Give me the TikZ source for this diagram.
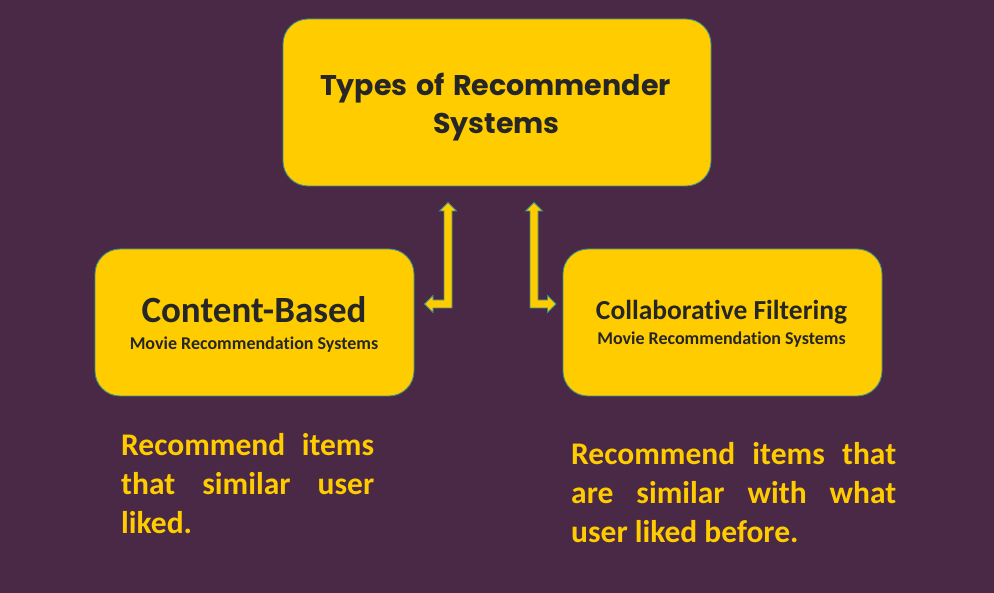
\documentclass[tikz,border=0pt]{standalone}
\usepackage{fontspec}
\setmainfont{Carlito}[Ligatures=NoCommon]
\newfontfamily\titlefont{Poppins}[WordSpace=1.4]
\definecolor{bgplum}{HTML}{4A2946}
\definecolor{boxyellow}{HTML}{FFCC00}
\definecolor{edgeteal}{HTML}{3E8F86}
\definecolor{inktext}{HTML}{262626}
\tikzset{
  card/.style={draw=edgeteal, line width=0.9pt, fill=boxyellow, rounded corners=25pt, inner sep=0pt},
  blockarrow/.style={draw=edgeteal, line width=0.8pt, fill=boxyellow, line join=miter},
  boxtext/.style={inner sep=0pt, anchor=base, text=inktext},
  notetext/.style={inner sep=0pt, anchor=base west, text=boxyellow}
}
\begin{document}
\begin{tikzpicture}[x=1pt,y=-1pt]
\fill[bgplum] (0,0) rectangle (994,593);
\useasboundingbox (0,0) rectangle (994,593);
% boxes
\node[card, minimum width=428pt, minimum height=167pt] (top) at (497,102.5) {};
\node[card, minimum width=319pt, minimum height=147pt] (left) at (254.5,322.5) {};
\node[card, minimum width=319pt, minimum height=147pt] (right) at (722.5,322.5) {};
% title
\node[boxtext, font=\titlefont\bfseries\fontsize{28.5}{35}\selectfont] (t1) at (495.5,96) {Types of Recommender};
\node[boxtext, font=\titlefont\bfseries\fontsize{28.5}{35}\selectfont] (t2) at (496.5,134) {Systems};
% left box
\node[boxtext, font=\bfseries\fontsize{37}{40}\selectfont] (l1) at (254,322.7) {Content-Based};
\node[boxtext, font=\bfseries\fontsize{18}{22}\selectfont] (l2) at (254,349.3) {Movie Recommendation Systems};
% right box
\node[boxtext, font=\bfseries\fontsize{27.5}{32}\selectfont] (r1) at (721.5,320) {Collaborative Filtering};
\node[boxtext, font=\bfseries\fontsize{18}{22}\selectfont] (r2) at (721.5,344.5) {Movie Recommendation Systems};
% notes
\node[notetext, font=\bfseries\fontsize{31.5}{39}\selectfont] (nl) at (121,456) {\parbox[t]{253pt}{\parindent=0pt\hyphenpenalty=10000\exhyphenpenalty=10000\rightskip=0pt\parfillskip=0pt plus 1fil Recommend items that similar user liked.}};
\node[notetext, font=\bfseries\fontsize{31.5}{39}\selectfont] (nr) at (571,465) {\parbox[t]{325pt}{\parindent=0pt\hyphenpenalty=10000\exhyphenpenalty=10000\rightskip=0pt\parfillskip=0pt plus 1fil Recommend items that are similar with what user liked before.}};
% block arrows
\draw[blockarrow] (448,202.5) -- (456.5,211) -- (452,211) -- (452,308) -- (433,308) -- (433,312.5) -- (424.5,304) -- (433,295.5) -- (433,300) -- (444,300) -- (444,211) -- (439.5,211) -- cycle;
\draw[blockarrow] (534,202.5) -- (542.5,211) -- (538,211) -- (538,300) -- (547.5,300) -- (547.5,295.5) -- (556,304) -- (547.5,312.5) -- (547.5,308) -- (530,308) -- (530,211) -- (525.5,211) -- cycle;
\end{tikzpicture}
\end{document}
